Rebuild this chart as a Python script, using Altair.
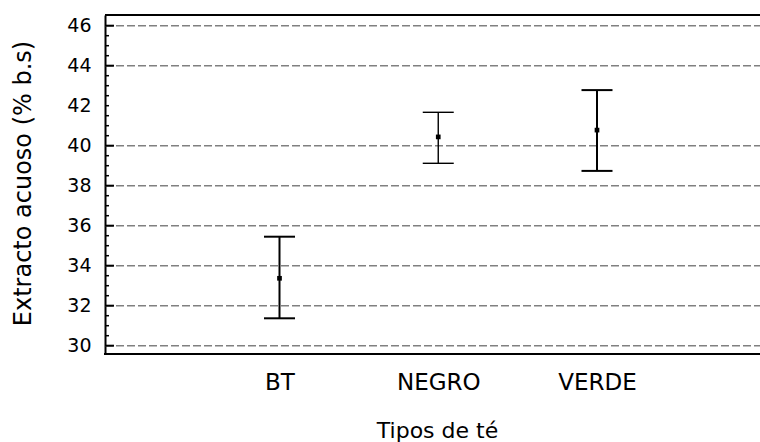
import altair as alt
import pandas as pd

categories = ["BT", "NEGRO", "VERDE"]
means = [33.37, 40.44, 40.78]
lower = [31.37, 39.12, 38.74]
upper = [35.45, 41.67, 42.78]

y_labels = [30, 32, 34, 36, 38, 40, 42, 44, 46]
grid_values = [30, 32, 34, 36, 38, 40, 44, 46]
minor_ticks = [30.5, 31, 31.5, 32.5, 33, 33.5, 34.5, 35, 35.5, 36.5, 37, 37.5,
               38.5, 39, 39.5, 40.5, 41, 41.5, 42, 42.5, 43, 43.5, 44.5, 45, 45.5]

W, H = 655, 339
FONT = "DejaVu Sans"

df = pd.DataFrame({"cat": categories, "mean": means, "lo": lower, "hi": upper})
grid_df = pd.DataFrame({"v": grid_values})
minor_df = pd.DataFrame({"v": minor_ticks})

yscale = alt.Scale(domain=[29.585, 46.535], nice=False, zero=False)
xscale = alt.Scale(type="point", domain=categories, range=[174.5, 492], padding=0)

x_axis = alt.Axis(
    labelAngle=0, ticks=False, tickSize=0, grid=False, domain=False,
    labelFont=FONT, labelFontSize=23, labelColor="black",
    labelBaseline="alphabetic", labelPadding=35,
    title="Tipos de té", titleFont=FONT, titleFontSize=22,
    titleFontWeight="normal", titleColor="black",
    titleX=332, titleY=83, titleAlign="center", titleBaseline="alphabetic",
)

y_axis = alt.Axis(
    values=y_labels, grid=False, ticks=False, tickSize=0,
    domainColor="black", domainWidth=2,
    labelFont=FONT, labelFontSize=19, labelColor="black", labelPadding=14,
    title="Extracto acuoso (% b.s)", titleFont=FONT, titleFontSize=24,
    titleFontWeight="normal", titleColor="black",
    titleAngle=-90, titleX=-82, titleY=168, titleAlign="center",
    titleBaseline="middle",
)

grid = alt.Chart(grid_df).mark_rule(
    color="#808080", strokeWidth=1.5, strokeDash=[8, 3]
).encode(
    y=alt.Y("v:Q", scale=yscale, axis=y_axis),
    x=alt.value(0), x2=alt.value(W),
)

width_cond = alt.condition(alt.datum.cat == "NEGRO", alt.value(1.4), alt.value(2))

bars = alt.Chart(df).mark_rule(color="black").encode(
    x=alt.X("cat:N", scale=xscale, sort=categories, axis=x_axis),
    y=alt.Y("lo:Q", scale=yscale),
    y2="hi:Q",
    strokeWidth=width_cond,
)


def caps(field, thin):
    test = alt.datum.cat == "NEGRO" if thin else alt.datum.cat != "NEGRO"
    return alt.Chart(df).transform_filter(test).mark_tick(
        color="black", size=31, thickness=1.4 if thin else 2, orient="horizontal", opacity=1
    ).encode(
        x=alt.X("cat:N", scale=xscale, sort=categories),
        y=alt.Y(f"{field}:Q", scale=yscale),
    )


pts = alt.Chart(df).mark_square(color="black", size=22, opacity=1).encode(
    x=alt.X("cat:N", scale=xscale, sort=categories),
    y=alt.Y("mean:Q", scale=yscale),
)

major = alt.Chart(grid_df).mark_rule(color="black", strokeWidth=2).encode(
    y=alt.Y("v:Q", scale=yscale),
    x=alt.value(0), x2=alt.value(9),
)
minor = alt.Chart(minor_df).mark_rule(color="black", strokeWidth=1.5).encode(
    y=alt.Y("v:Q", scale=yscale),
    x=alt.value(0), x2=alt.value(4),
)

top_border = alt.Chart(grid_df).mark_rule(color="black", strokeWidth=2).encode(
    x=alt.value(0), x2=alt.value(W + 5), y=alt.value(0),
)
bottom_border = alt.Chart(grid_df).mark_rule(color="black", strokeWidth=2).encode(
    x=alt.value(-1), x2=alt.value(W + 5), y=alt.value(H),
)

chart = alt.layer(
    grid, bars,
    caps("lo", False), caps("hi", False), caps("lo", True), caps("hi", True),
    pts, major, minor, top_border, bottom_border,
).properties(
    width=W, height=H,
    padding={"left": 105, "top": 15, "right": 0, "bottom": 88},
    autosize=alt.AutoSizeParams(type="none"),
    background="white",
).configure_view(stroke=None)

chart.save("out.html", embed_options={"renderer": "svg", "actions": False})
